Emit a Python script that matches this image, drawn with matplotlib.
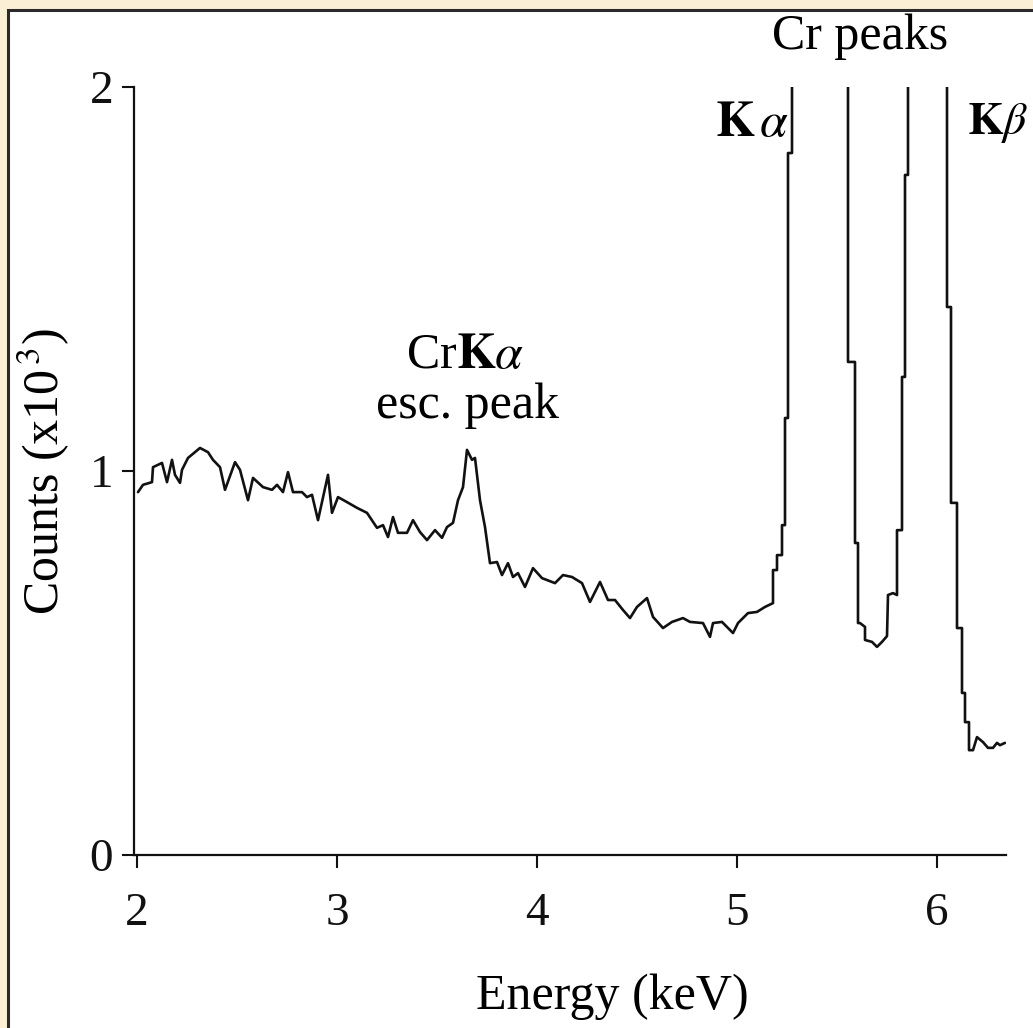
import matplotlib
matplotlib.use("Agg")
import matplotlib.pyplot as plt
from matplotlib.patches import Rectangle

plt.rcParams['font.family'] = ['Liberation Serif', 'DejaVu Serif']
plt.rcParams['mathtext.fontset'] = 'stix'

# spectrum (energy in keV, counts in 10^3)
# values above 2 are off scale and get clipped by the axes
energy = [2.005, 2.03, 2.075, 2.08, 2.125, 2.15, 2.175, 2.19, 2.215, 2.225,
          2.255, 2.315, 2.355, 2.38, 2.415, 2.44, 2.49, 2.515, 2.555, 2.58,
          2.63, 2.675, 2.70, 2.73, 2.755, 2.78, 2.825, 2.85, 2.875, 2.905,
          2.955, 2.975, 3.005, 3.05, 3.10, 3.15, 3.20, 3.23, 3.255, 3.28,
          3.305, 3.35, 3.38, 3.415, 3.45, 3.49, 3.525, 3.55, 3.58, 3.605,
          3.63, 3.65, 3.675, 3.69, 3.715, 3.74, 3.765, 3.80, 3.825, 3.855,
          3.88, 3.905, 3.94, 3.98, 4.025, 4.09, 4.13, 4.175, 4.225, 4.265,
          4.315, 4.355, 4.39, 4.43, 4.465, 4.50, 4.55, 4.58, 4.63, 4.675,
          4.73, 4.765, 4.83, 4.865, 4.88, 4.925, 4.98, 5.005, 5.055, 5.10,
          5.14, 5.18,
          # Cr K-alpha
          5.18, 5.20, 5.20, 5.225, 5.225, 5.24, 5.24, 5.255, 5.255, 5.275,
          5.275, 5.555, 5.555, 5.59, 5.59, 5.605, 5.605, 5.615, 5.64, 5.64,
          5.675, 5.70, 5.725, 5.75, 5.755, 5.78, 5.80, 5.80, 5.825, 5.825,
          5.84, 5.84, 5.855, 5.855,
          # Cr K-beta
          6.05, 6.05, 6.07, 6.07, 6.10, 6.10, 6.125, 6.125, 6.14, 6.14,
          6.16, 6.16, 6.18, 6.20, 6.23, 6.255, 6.28, 6.30, 6.315, 6.34]
counts = [0.945, 0.964, 0.971, 1.010, 1.021, 0.971, 1.029, 0.990, 0.969, 1.003,
          1.034, 1.060, 1.049, 1.029, 1.010, 0.951, 1.023, 1.003, 0.924, 0.982,
          0.958, 0.951, 0.964, 0.945, 0.997, 0.945, 0.945, 0.932, 0.938, 0.872,
          0.990, 0.891, 0.932, 0.919, 0.904, 0.891, 0.852, 0.859, 0.828, 0.880,
          0.839, 0.839, 0.872, 0.841, 0.820, 0.846, 0.826, 0.854, 0.865, 0.924,
          0.958, 1.055, 1.029, 1.034, 0.924, 0.854, 0.760, 0.763, 0.729, 0.760,
          0.724, 0.734, 0.698, 0.747, 0.721, 0.708, 0.729, 0.724, 0.708, 0.659,
          0.711, 0.664, 0.664, 0.638, 0.617, 0.646, 0.669, 0.620, 0.591, 0.607,
          0.617, 0.607, 0.604, 0.568, 0.604, 0.607, 0.578, 0.604, 0.630, 0.633,
          0.646, 0.656,
          0.742, 0.742, 0.781, 0.781, 0.859, 0.859, 1.138, 1.138, 1.828, 1.828,
          2.5, 2.5, 1.284, 1.284, 0.8125, 0.8125, 0.604, 0.604, 0.594, 0.560,
          0.555, 0.542, 0.555, 0.570, 0.677, 0.682, 0.677, 0.846, 0.846, 1.245,
          1.245, 1.771, 1.771, 2.5,
          2.5, 1.427, 1.427, 0.917, 0.917, 0.591, 0.591, 0.422, 0.422, 0.346,
          0.346, 0.273, 0.273, 0.307, 0.294, 0.279, 0.279, 0.292, 0.286, 0.292]

x_ticks = [2, 3, 4, 5, 6]
y_ticks = [0, 1, 2]

fig = plt.figure(figsize=(10.33, 10.28), dpi=100, facecolor='#fbefd6')
# white panel with the dark frame on its left and top
fig.add_artist(Rectangle((8 / 1033, -0.1), 1.2, 1 - 10 / 1028 + 0.1,
                         transform=fig.transFigure, facecolor='white',
                         edgecolor='#2a2a2a', linewidth=2.2, zorder=0))

ax = fig.add_axes([134 / 1033, 1 - 855 / 1028, 872 / 1033, 768 / 1028])
ax.patch.set_visible(False)

ax.plot(energy, counts, color='#111111', linewidth=1.9,
        solid_joinstyle='round', solid_capstyle='round')

ax.set_xlim(1.985, 6.345)
ax.set_ylim(0, 2)
ax.set_xticks(x_ticks)
ax.set_yticks(y_ticks)
for s in ['top', 'right']:
    ax.spines[s].set_visible(False)
for s in ['left', 'bottom']:
    ax.spines[s].set_linewidth(1.6)
    ax.spines[s].set_color('#111111')
ax.tick_params(axis='both', direction='out', length=9, width=1.5,
               labelsize=34, colors='#111111')
ax.tick_params(axis='x', pad=18)
ax.tick_params(axis='y', pad=6)

ax.set_xlabel('Energy (keV)', fontsize=36)
ax.xaxis.set_label_coords((612 - 134) / 872, -0.185)
ax.xaxis.label.set_va('center')
ax.set_ylabel(r'Counts (x10$^{\,3}$)', fontsize=36)
ax.yaxis.set_label_coords(-0.103, 0.5)
ax.yaxis.label.set_va('center')

# annotations
ax.text(5.615, 2.13, 'Cr peaks', fontsize=36, ha='center', va='center')
ax.text(5.26, 1.905, r'$\mathbf{K}\,\alpha$', fontsize=36, ha='right', va='center')
ax.text(6.148, 1.905, r'$\mathbf{K}\beta$', fontsize=33, ha='left', va='center')
ax.text(3.64, 1.30, r'Cr$\mathbf{K}\alpha$', fontsize=36, ha='center', va='center')
ax.text(3.655, 1.17, 'esc. peak', fontsize=36, ha='center', va='center')

fig.savefig('out.png', dpi=100, facecolor=fig.get_facecolor())
